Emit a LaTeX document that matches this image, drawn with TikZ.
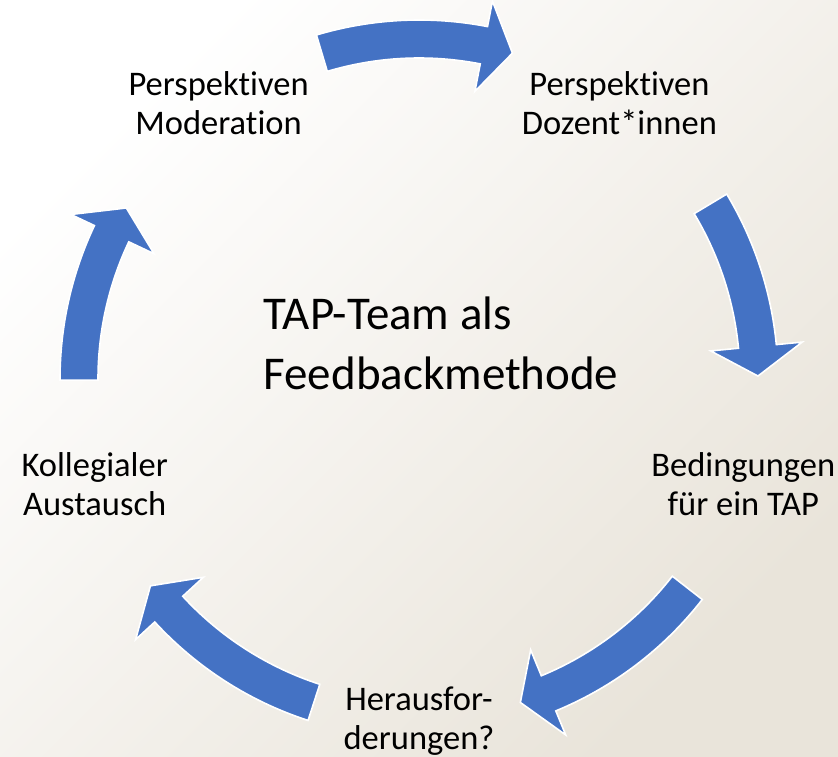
\documentclass[tikz,border=0pt]{standalone}
\usepackage{fontspec}
\setmainfont[Ligatures=NoCommon]{Carlito}
\usepackage{tikz}
\usetikzlibrary{positioning}

\definecolor{cycblue}{HTML}{4472C4}
\definecolor{paper}{HTML}{E9E4DA}

\begin{document}
\begin{tikzpicture}[x=1pt,y=1pt,
  cyc/.style={fill=cycblue,draw=white,line width=1.6pt,line join=miter},
  lbl/.style={font=\fontsize{34.5}{38.5}\selectfont,align=center,inner sep=0pt},
  mid/.style={font=\fontsize{47}{60}\selectfont,align=left,inner sep=0pt}]
  % background
  \shade[top color=white,bottom color=paper,shading angle=45]
    (-419,-378) rectangle (419,379);
  \useasboundingbox (-419,-378) rectangle (419,379);
  \coordinate (ctr) at (0,0);
  % the five steps, on a circle round ctr
  \node[lbl] (moder) at (126:341) {Perspektiven\\Moderation};
  \node[lbl] (dozent) at (54:341) {Perspektiven\\Dozent*innen};
  \node[lbl] (beding) at (-18:341) {Bedingungen\\für ein TAP};
  \node[lbl] (heraus) at (270:342) {Herausfor-\\derungen?};
  \node[lbl] (kolleg) at (198:341) {Kollegialer\\Austausch};
  \node[mid] (team) at (22,36) {TAP-Team als\\Feedbackmethode};
  % curved block arrows, clockwise: start angle / tip angle
  \foreach \s/\t in {106.6/74, 31/0.5, -37.9/-72.6, -108/-142.4, 180.2/149.7}{
    \pgfmathsetmacro\hb{\t+5}
    \filldraw[cyc] (\s:359) arc[start angle=\s,end angle=\hb,radius=359]
      -- (\hb:385) -- (\t:339) -- (\hb:293) -- (\hb:321)
      arc[start angle=\hb,end angle=\s,radius=321] -- cycle;
  }
\end{tikzpicture}
\end{document}
